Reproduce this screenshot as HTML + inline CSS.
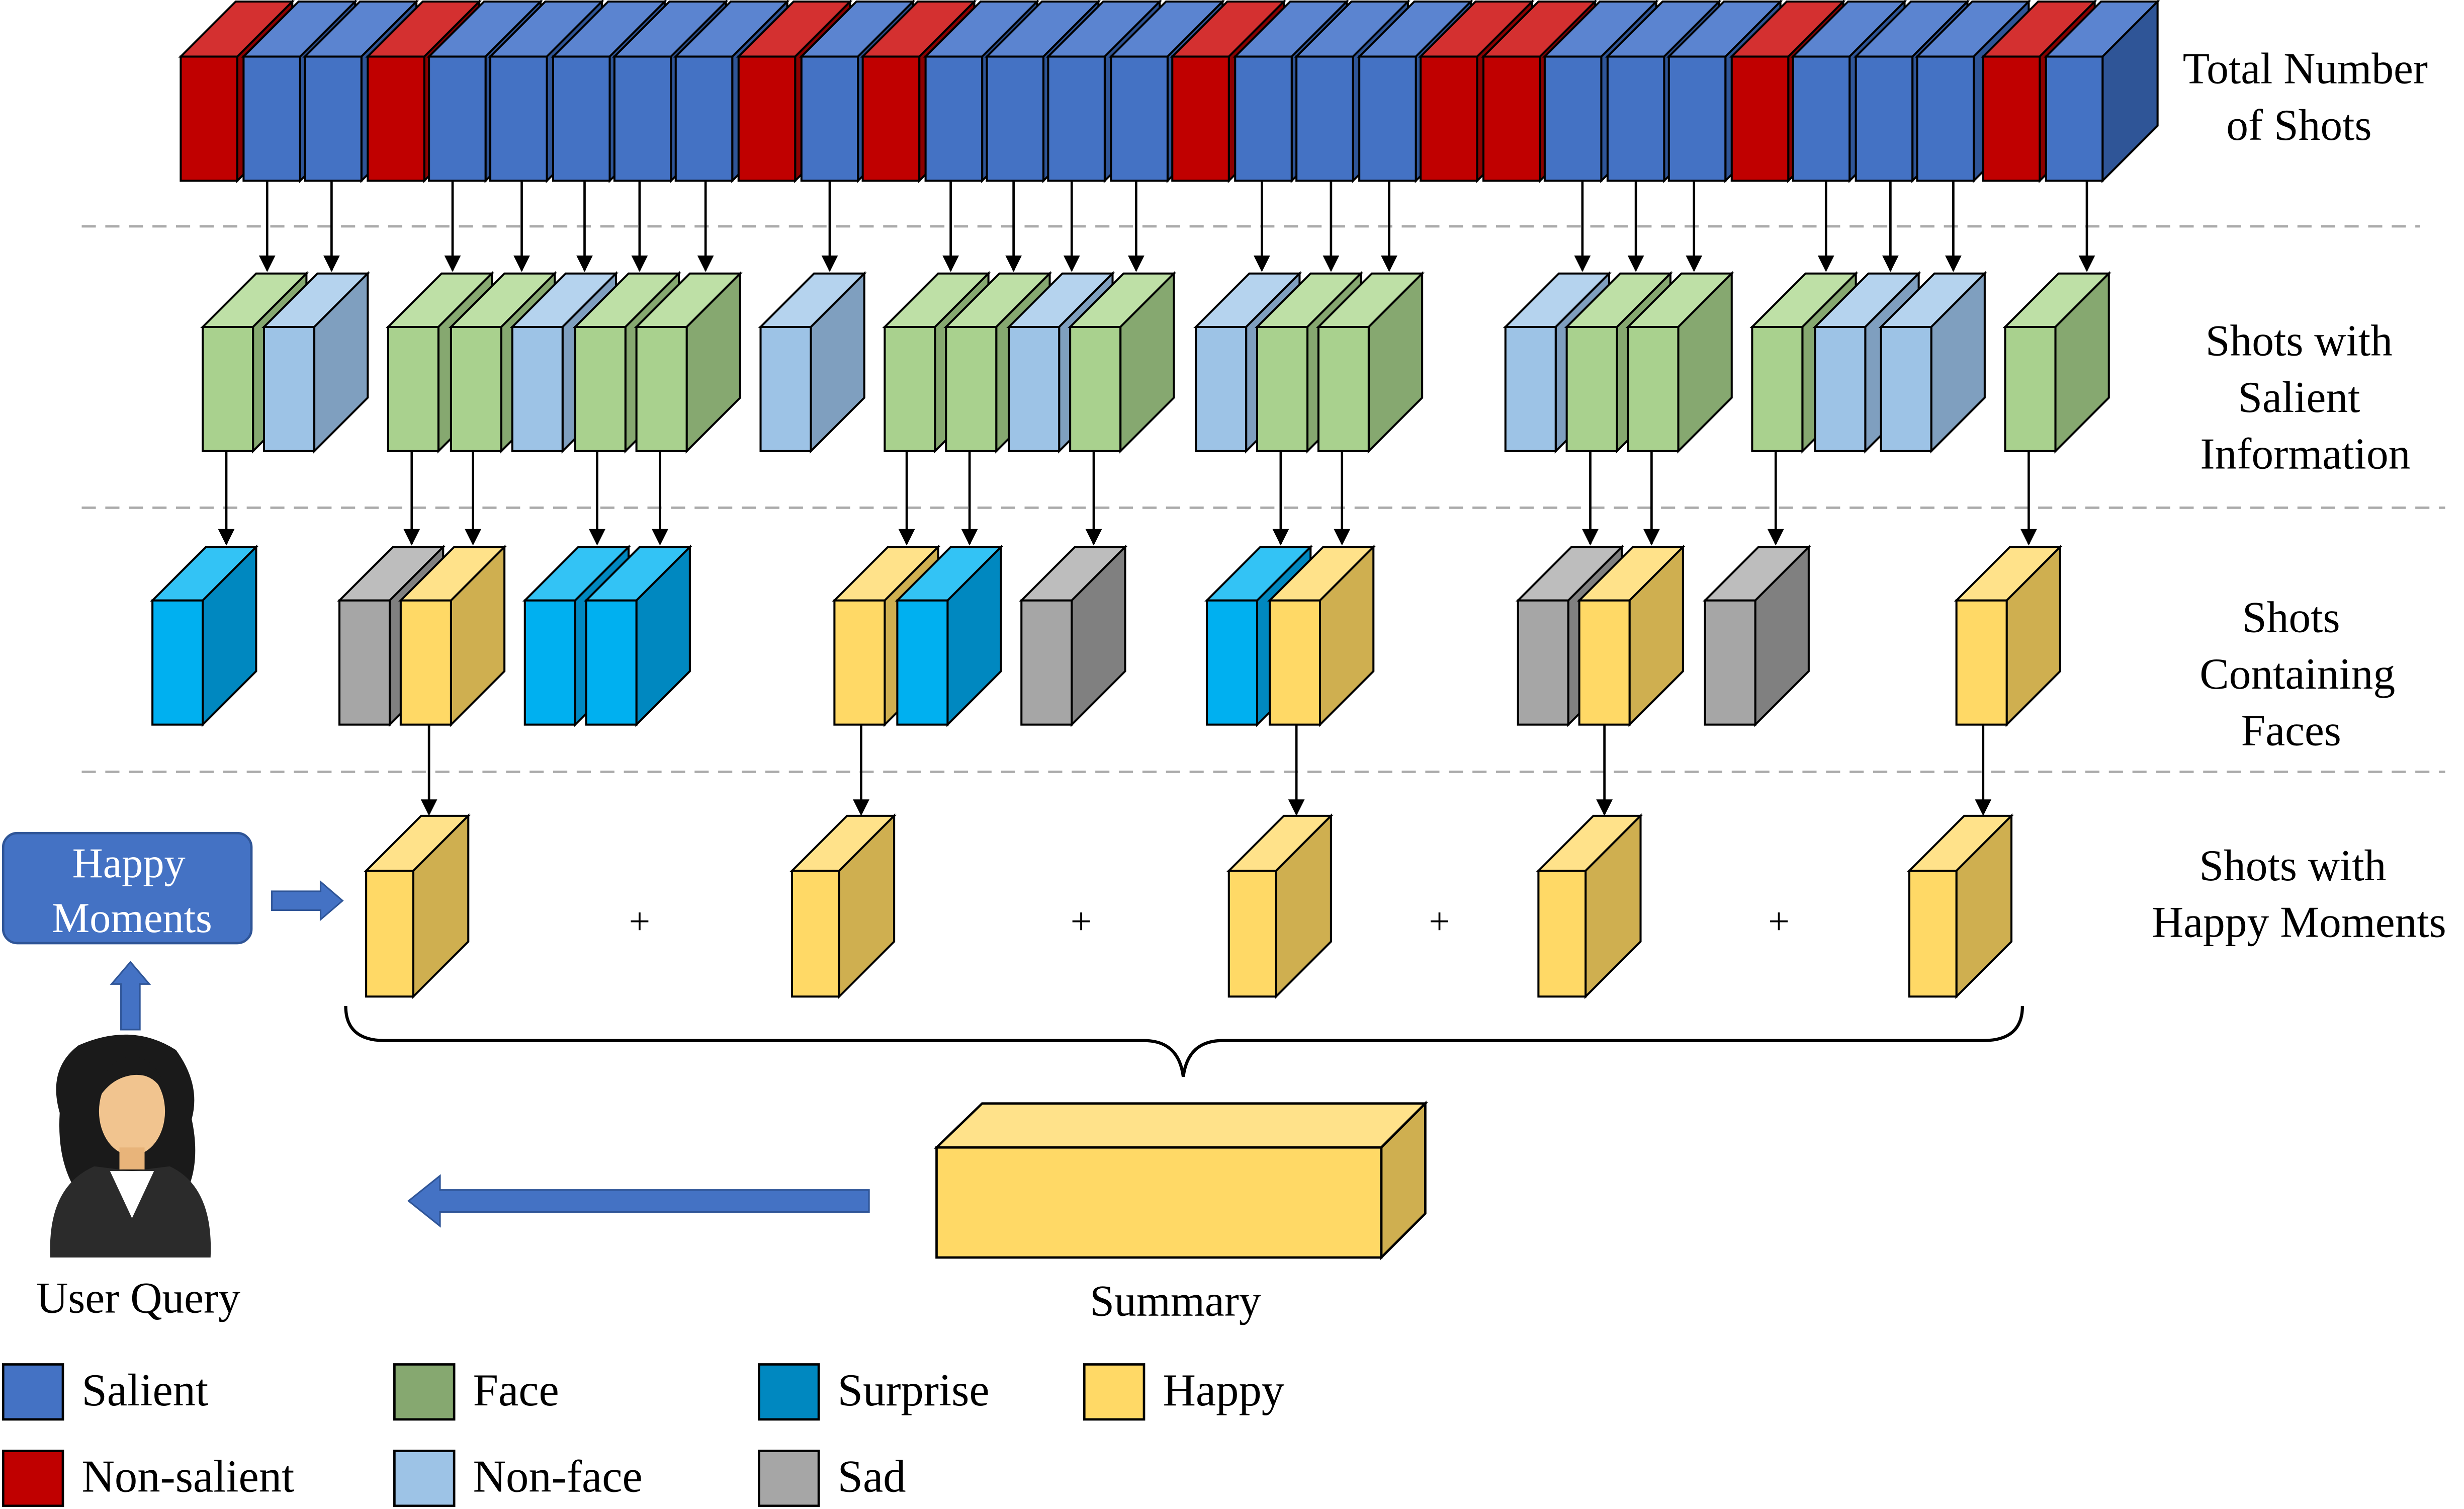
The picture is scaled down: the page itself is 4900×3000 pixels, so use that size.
<!DOCTYPE html>
<html><head><meta charset="utf-8">
<style>
html,body{margin:0;padding:0;background:#fff;}
svg{display:block;}
text{font-family:"Liberation Serif",serif;fill:#000;}
</style></head>
<body>
<svg id="fig" width="4900" height="3000" viewBox="0 0 1568 960" xmlns="http://www.w3.org/2000/svg">
<defs>
<marker id="ah" viewBox="0 0 10 10" refX="9" refY="5" markerWidth="7" markerHeight="7" orient="auto-start-reverse"><path d="M0,0 L10,5 L0,10 z" fill="#000"/></marker>
</defs>
<g id="dashes">
<line x1="52" y1="144" x2="1540" y2="144" stroke="#aaa" stroke-width="1.5" stroke-dasharray="9,6"/>
<line x1="52" y1="323" x2="1556" y2="323" stroke="#aaa" stroke-width="1.5" stroke-dasharray="9,6"/>
<line x1="52" y1="491" x2="1556" y2="491" stroke="#aaa" stroke-width="1.5" stroke-dasharray="9,6"/>
</g>
<g id="cubes"></g>
<g id="arrows"></g>

<g font-size="24" text-anchor="middle">
<text x="407" y="594">+</text><text x="688" y="594">+</text><text x="916" y="594">+</text><text x="1132" y="594">+</text>
</g>
<path d="M220,640 Q220,662 245,662 L728,662 Q750,662 753,685 Q756,662 778,662 L1262,662 Q1287,662 1287,640" fill="none" stroke="#000" stroke-width="2"/>

<g stroke="#000" stroke-width="1.5">
<polygon points="596,730 625,702 907,702 879,730" fill="#FFE28A"/>
<polygon points="879,730 907,702 907,772 879,800" fill="#CFAF50"/>
<rect x="596" y="730" width="283" height="70" fill="#FFD966"/>
</g>
<text x="748" y="837" font-size="28" text-anchor="middle">Summary</text>
<polygon points="553,757 280,757 280,748 260,764 280,780 280,771 553,771" fill="#4472C4" stroke="#2F5597" stroke-width="1"/>

<g>
<rect x="2" y="530" width="158" height="70" rx="9" fill="#4472C4" stroke="#2F5597" stroke-width="1.5"/>
<text x="82" y="558" font-size="27" text-anchor="middle" style="fill:#fff">Happy</text>
<text x="84" y="593" font-size="27" text-anchor="middle" style="fill:#fff">Moments</text>
</g>
<polygon points="173,567 204,567 204,561 218,573 204,585 204,579 173,579" fill="#4472C4" stroke="#2F5597"/>
<polygon points="77,655 77,626 71,626 83,612 95,626 89,626 89,655" fill="#4472C4" stroke="#2F5597"/>

<g>
<path d="M38,708 Q30,680 50,665 Q84,650 112,668 Q128,690 122,712 Q128,740 118,760 L50,760 Q36,740 38,708 z" fill="#1a1a1a"/>
<ellipse cx="84" cy="707" rx="21" ry="28" fill="#F1C48F"/>
<path d="M62,700 Q66,672 86,672 Q104,676 106,700 Q100,682 84,684 Q70,686 62,700 z" fill="#1a1a1a"/>
<rect x="76" y="730" width="16" height="14" fill="#E8B47A"/>
<path d="M32,800 Q30,755 60,742 L84,745 L108,742 Q136,755 134,800 z" fill="#2b2b2b"/>
<path d="M70,745 L84,775 L98,745 z" fill="#fff"/>
</g>
<text x="88" y="835" font-size="28" text-anchor="middle">User Query</text>

<g font-size="28" text-anchor="middle">
<text x="1467" y="53">Total Number</text><text x="1463" y="89">of Shots</text>
<text x="1463" y="226">Shots with</text><text x="1463" y="262">Salient</text><text x="1467" y="298">Information</text>
<text x="1458" y="402">Shots</text><text x="1462" y="438">Containing</text><text x="1458" y="474">Faces</text>
<text x="1459" y="560">Shots with</text><text x="1463" y="596">Happy Moments</text>
</g>

<g id="legend" font-size="29"></g>
</svg>
<script>
const COL={
 S:['#4472C4','#5B84D0','#2F5597'],
 N:['#C00000','#D43030','#8B0000'],
 F:['#A9D18E','#BEE0A6','#86A870'],
 L:['#9DC3E6','#B5D3EE','#7F9FBF'],
 U:['#00B0F0','#33C3F5','#0088C0'],
 D:['#A6A6A6','#BDBDBD','#808080'],
 H:['#FFD966','#FFE28A','#CFAF50']
};
const row1X=[115,155,194,234,273,312,352,391,430,470,510,549,589,628,667,707,746,786,825,865,904,944,983,1023,1062,1102,1141,1181,1220,1262,1302];
const row1C="NSSNSSSSSNSNSSSSNSSSNNSSSNSSSNS".split('');
const row2X=[129,168,247,287,326,366,405,484,563,602,642,681,761,800,839,958,997,1036,1115,1155,1197,1276];
const row2C="FLFFLFFLFFLFLFFLFFFLLF".split('');
const row3X=[97,216,255,334,373,531,571,650,768,808,966,1005,1085,1245];
const row3C="UDHUUHUDUHDHDH".split('');
const row4X=[233,504,782,979,1215];
const arr1X=[170,211,288,332,372,407,449,528,605,645,682,723,803,847,884,1007,1041,1078,1162,1203,1243,1328];
const arr2X=[144,262,301,380,420,577,617,696,815,854,1012,1051,1130,1291];
const arr3X=[273,548,825,1021,1262];

const NS='http://www.w3.org/2000/svg';
const cubesG=document.getElementById('cubes');
function cube(x,y,w,h,d,key,name){
 const c=COL[key];const g=document.createElementNS(NS,'g');
 
 
 g.innerHTML=`<polygon points="${x},${y} ${x+d},${y-d} ${x+w+d},${y-d} ${x+w},${y}" fill="${c[1]}" stroke="#000" stroke-width="1.3"/>`+
 `<polygon points="${x+w},${y} ${x+w+d},${y-d} ${x+w+d},${y+h-d} ${x+w},${y+h}" fill="${c[2]}" stroke="#000" stroke-width="1.3"/>`+
 `<rect x="${x}" y="${y}" width="${w}" height="${h}" fill="${c[0]}" stroke="#000" stroke-width="1.3"/>`;
 cubesG.appendChild(g);
}
row1X.forEach((x,i)=>cube(x,36,36,79,35,row1C[i],'total-shot-cube'));
row2X.forEach((x,i)=>cube(x,208,32,79,34,row2C[i],'salient-shot-cube'));
row3X.forEach((x,i)=>cube(x,382,32,79,34,row3C[i],'face-shot-cube'));
row4X.forEach((x)=>cube(x,554,30,80,35,'H','happy-shot-cube'));

const arrG=document.getElementById('arrows');
function arrow(x,y1,y2){
 const l=document.createElementNS(NS,'line');
 
 
 l.setAttribute('x1',x);l.setAttribute('x2',x);l.setAttribute('y1',y1);l.setAttribute('y2',y2);
 l.setAttribute('stroke','#000');l.setAttribute('stroke-width','1.5');l.setAttribute('marker-end','url(#ah)');
 arrG.appendChild(l);
}
arr1X.forEach(x=>arrow(x,115,172));
arr2X.forEach(x=>arrow(x,287,346));
arr3X.forEach(x=>arrow(x,461,518));

const legNames=['Salient','Non-salient','Face','Non-face','Surprise','Sad','Happy'];
const legFill=['#4472C4','#C00000','#86A870','#9DC3E6','#0088C0','#A6A6A6','#FFD966'];
const legCol=[0,0,1,1,2,2,3];
const legRow=[0,1,0,1,0,1,0];
const colX=[2,251,483,690];
const legG=document.getElementById('legend');
legNames.forEach((n,i)=>{
 const x=colX[legCol[i]],y=868+legRow[i]*55;
 const g=document.createElementNS(NS,'g');
 
 
 g.innerHTML=`<rect x="${x}" y="${y}" width="38" height="35" fill="${legFill[i]}" stroke="#000" stroke-width="1.5"/><text x="${x+50}" y="${y+26}">${n}</text>`;
 legG.appendChild(g);
});
</script>
</body></html>
